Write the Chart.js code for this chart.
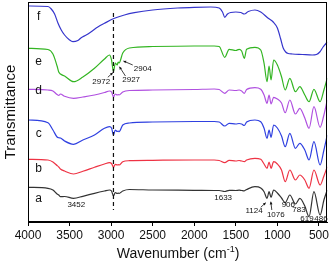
<!DOCTYPE html>
<html>
<head>
<meta charset="utf-8">
<script src="https://cdn.jsdelivr.net/npm/chart.js@4.4.1/dist/chart.umd.min.js"></script>
<style>
html,body{margin:0;padding:0;background:#fff;}
#c{display:block;}
</style>
</head>
<body>
<canvas id="c" width="331" height="264"></canvas>
<script>
// Wavenumbers (cm-1) sampled for curves a-e
const wavenumbers = [4000,3760,3700,3650,3630,3610,3560,3452,3340,3200,3080,3020,2995,2972,2950,2927,2915,2904,2860,2780,2500,2000,1760,1700,1633,1580,1500,1460,1430,1398,1370,1270,1200,1160,1124,1100,1076,1045,1000,950,906,850,783,730,670,619,560,486,440,400];
// Transmittance (a.u., offset curves)
const seriesA = [34.7,33.7,32,28,27,25.3,25.5,23.7,25.7,28.7,31,32,31,26,29.5,28.5,29,28.5,31,32.5,32,31.7,31.5,31.5,30.5,31.7,31.5,31.8,31.5,31.2,32.5,35.3,34,30.3,23.7,30.3,24.7,32,29,24,19.3,27,18,23.7,16,5.3,30.3,7,22,32];
const seriesB = [62.7,62,60,56.5,55,53,51,48,50.7,54.7,58,59.3,58.5,54.7,57.7,57,57.3,57,60.3,61.3,61.7,62,62,61.5,59.3,61.7,61,61.5,61,60.3,62,63.7,62.7,58,53.7,60,53.7,60.3,58,52,40.3,52,42,47,42,33.7,52,37,46,55.3];
const seriesC = [102,99.3,92,85,84.3,84,81,77.7,82,87,93.7,95.3,94,87,92,90.5,91,90.3,97,99,100,100.5,100.5,100,96,98.7,98,98.5,98,96.5,100,102,100.3,93.7,83.7,92,84.7,97,94,86,75.3,88.7,73.7,78.7,72,62,80.3,57,72,87];
const seriesD = [132.7,132,131,127.5,126.5,128,125.7,123.7,125,127,129.5,131,130,125,128,127,127.5,127,130,131.5,132,132.5,133,132.5,128.7,132,131.5,132,131,128.7,132.5,134.3,132.7,127,118.7,127,118,124.7,123,119,109.3,122,108,113.7,104,93.7,115.3,94.7,107,122];
const seriesE = [173.7,172.5,168,156,150,148,146,140.3,145,153.7,163,167,162,150.3,159,157,160,159,169,174,175.5,176,176,175.5,164.7,172.7,171.5,172.7,171,163.7,172.7,174.7,172,158.7,140.3,156,142,162,157,145.3,132,143.7,130.3,135.3,127,120.3,132.7,120.3,132,144];
// Curve f sampled separately
const wavenumbersF = [4000,3760,3720,3680,3640,3600,3560,3500,3460,3400,3360,3300,3240,3160,3080,2960,2840,2720,2500,2200,2000,1800,1700,1660,1633,1600,1560,1500,1440,1398,1350,1270,1200,1110,1050,1000,960,930,900,870,820,700,580,530,490,450,420,400];
const seriesF = [216,215.5,213,208,199,192,187,182,180.3,181.5,184.3,187,190.3,195,198.7,203.7,207,209.3,212,214,214.7,215,214,210,204.7,208,209.5,210,209.5,208,210.5,212,210,203.7,200,194,183,174,170,168.5,168,167.5,167,167.5,170,175,178,180];
const tickValues = [4000,3500,3000,2500,2000,1500,1000,500];
const curveNames = ['a','b','c','d','e','f'];
const markedPeak = 2972;

const colors = ['#333333','#ee3344','#2f40e0','#b050e0','#33b522','#3535cc'];
const allSeries = [seriesA,seriesB,seriesC,seriesD,seriesE,seriesF];

const datasets = allSeries.map((s,k)=>{
  const w = (k===5)? wavenumbersF : wavenumbers;
  return {
    label: curveNames[k],
    data: s.map((v,i)=>({x:w[i], y:v})),
    borderColor: colors[k],
    borderWidth: 1.2,
    pointRadius: 0,
    fill: false,
    cubicInterpolationMode: 'monotone'
  };
});

// annotation texts placed in data coordinates
const curveLetterPos = [[3872,23.7],[3872,53],[3872,88],[3872,131.3],[3872,160.3],[3872,205.3]];
const peakLabels = [
  {t:'3452', x:3419, y:17},
  {t:'2972', x:3119, y:140.3},
  {t:'2927', x:2759, y:142.7},
  {t:'2904', x:2620, y:153.7},
  {t:'1633', x:1652, y:24.3},
  {t:'1124', x:1280, y:11.3},
  {t:'1076', x:1019, y:7},
  {t:'906', x:868, y:17.7},
  {t:'783', x:740, y:12},
  {t:'619', x:644, y:3},
  {t:'486', x:476, y:3}
];
const arrows = [
  [3040,144.7,2980,149.3],
  [2828,146,2900,155.3],
  [2740,157,2852,161],
  [1200,14.7,1140,19.3],
  [1067,12,1079,20.3]
];

const deco = {
  id:'deco',
  afterDraw(chart){
    const ctx = chart.ctx, a = chart.chartArea, xs = chart.scales.x, ys = chart.scales.y;
    ctx.save();
    ctx.strokeStyle = '#000'; ctx.lineWidth = 1;
    ctx.strokeRect(Math.round(a.left)+0.5, Math.round(a.top)+0.5, Math.round(a.right-a.left)-1, Math.round(a.bottom-a.top)-1);
    ctx.setLineDash([4,3]); ctx.lineWidth = 1.2; ctx.strokeStyle='#111';
    const dx = xs.getPixelForValue(markedPeak);
    ctx.beginPath(); ctx.moveTo(dx, ys.getPixelForValue(209)); ctx.lineTo(dx, ys.getPixelForValue(12)); ctx.stroke();
    ctx.setLineDash([]);
    ctx.fillStyle = '#111'; ctx.font = '12px "Liberation Sans", Arial, sans-serif';
    ctx.textAlign='center'; ctx.textBaseline='middle';
    curveLetterPos.forEach((p,i)=>ctx.fillText(curveNames[i], xs.getPixelForValue(p[0]), ys.getPixelForValue(p[1])));
    ctx.font = '8px "Liberation Sans", Arial, sans-serif';
    peakLabels.forEach(p=>ctx.fillText(p.t, xs.getPixelForValue(p.x), ys.getPixelForValue(p.y)));
    ctx.strokeStyle='#111'; ctx.lineWidth=0.8;
    arrows.forEach(r=>{
      const x1=xs.getPixelForValue(r[0]), y1=ys.getPixelForValue(r[1]);
      const x2=xs.getPixelForValue(r[2]), y2=ys.getPixelForValue(r[3]);
      ctx.beginPath(); ctx.moveTo(x1,y1); ctx.lineTo(x2,y2); ctx.stroke();
      const ang=Math.atan2(y2-y1,x2-x1), L=3;
      ctx.beginPath(); ctx.moveTo(x2,y2);
      ctx.lineTo(x2-L*Math.cos(ang-0.5), y2-L*Math.sin(ang-0.5));
      ctx.lineTo(x2-L*Math.cos(ang+0.5), y2-L*Math.sin(ang+0.5));
      ctx.closePath(); ctx.fill();
    });
    ctx.fillStyle='#111';
    ctx.font = '14px "Liberation Sans", Arial, sans-serif';
    ctx.textAlign='left'; ctx.textBaseline='alphabetic';
    const main='Wavenumber (cm', sup='-1', end=')';
    const wMain=ctx.measureText(main).width;
    ctx.font='9px "Liberation Sans", Arial, sans-serif';
    const wSup=ctx.measureText(sup).width;
    ctx.font='14px "Liberation Sans", Arial, sans-serif';
    const wEnd=ctx.measureText(end).width;
    const total=wMain+wSup+wEnd;
    let tx=178-total/2, ty=258;
    ctx.fillText(main,tx,ty); tx+=wMain;
    ctx.font='9px "Liberation Sans", Arial, sans-serif';
    ctx.fillText(sup,tx,ty-6); tx+=wSup;
    ctx.font='14px "Liberation Sans", Arial, sans-serif';
    ctx.fillText(end,tx,ty);
    ctx.save();
    ctx.translate(11,112); ctx.rotate(-Math.PI/2);
    ctx.textAlign='center'; ctx.textBaseline='middle';
    ctx.font='15px "Liberation Sans", Arial, sans-serif';
    ctx.fillText('Transmittance',0,0);
    ctx.restore();
    ctx.restore();
  }
};

new Chart(document.getElementById('c'), {
  type:'line',
  data:{datasets},
  options:{
    responsive:false,
    animation:false,
    devicePixelRatio:1,
    layout:{padding:{top:2,right:2,left:0,bottom:0}},
    plugins:{legend:{display:false}, tooltip:{enabled:false}},
    scales:{
      x:{
        type:'linear', reverse:true, min:400, max:4000,
        afterBuildTicks(s){ s.ticks = tickValues.map(v=>({value:v})); },
        afterFit(s){ s.height = 42; },
        ticks:{color:'#111', font:{family:'"Liberation Sans", Arial, sans-serif', size:12}, padding:2, maxRotation:0, autoSkip:false,
          callback:(v)=>String(v)},
        grid:{drawOnChartArea:false, drawTicks:true, tickLength:4, color:'#000'},
        border:{display:true, color:'#000', width:1}
      },
      y:{
        min:0, max:220,
        afterFit(s){ s.width = 28; },
        ticks:{display:false},
        grid:{display:false},
        border:{display:true, color:'#000', width:1}
      }
    }
  },
  plugins:[deco]
});
</script>
</body>
</html>
